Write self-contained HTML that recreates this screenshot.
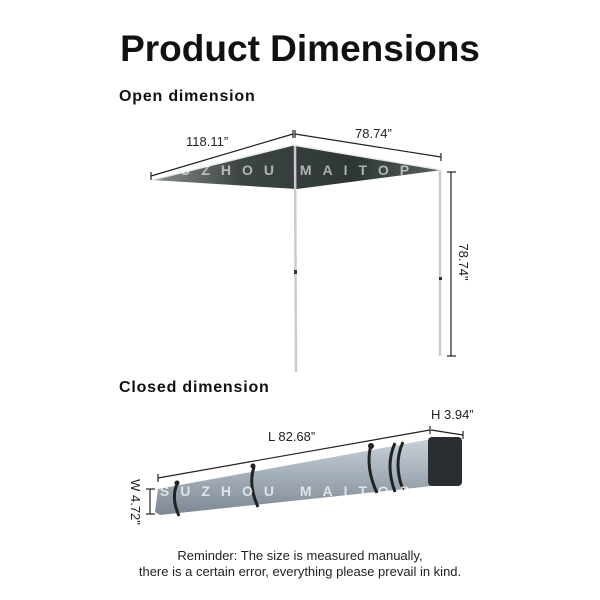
<!DOCTYPE html>
<html><head><style>
html,body{margin:0;padding:0;background:#fff;}
svg{display:block;}
</style></head><body>
<svg width="600" height="600" viewBox="0 0 600 600" xmlns="http://www.w3.org/2000/svg" font-family="Liberation Sans, sans-serif">
<defs>
<linearGradient id="can" x1="0" y1="0" x2="1" y2="0">
<stop offset="0" stop-color="#8a9090"/><stop offset="0.3" stop-color="#3e4545"/><stop offset="0.7" stop-color="#2e3535"/><stop offset="1" stop-color="#5a6262"/>
</linearGradient>
<linearGradient id="tube" x1="0" y1="0" x2="0" y2="1">
<stop offset="0" stop-color="#c8d0d8"/><stop offset="0.4" stop-color="#aab4be"/><stop offset="1" stop-color="#7e8894"/>
</linearGradient>
</defs>
<text x="300" y="61" text-anchor="middle" font-size="37" font-weight="bold" fill="#111">Product Dimensions</text>
<text x="119" y="101" font-size="16" font-weight="bold" fill="#111" letter-spacing="0.8">Open dimension</text>
<text x="119" y="392" font-size="16" font-weight="bold" fill="#111" letter-spacing="0.8">Closed dimension</text>

<polygon points="152,180 293,145 442,170 297,189" fill="url(#can)"/>
<polyline points="152,180 293,145 442,170" fill="none" stroke="#e8ecec" stroke-width="1.5"/>
<line x1="295" y1="146" x2="296" y2="372" stroke="#c8ccd0" stroke-width="2.5"/>
<line x1="440" y1="171" x2="440" y2="356" stroke="#c8ccd0" stroke-width="2.5"/>
<rect x="294" y="270" width="3" height="4" fill="#333"/>
<rect x="439" y="277" width="3" height="3" fill="#333"/>
<text x="290" y="175" font-size="14" font-weight="bold" fill="#fff" fill-opacity="0.6" text-anchor="middle" letter-spacing="11">SUZHOU MAITOP</text>

<g stroke="#222" stroke-width="1.2" fill="none">
<line x1="151" y1="176" x2="293" y2="134"/>
<line x1="151" y1="172" x2="151" y2="180"/>
<line x1="293" y1="130" x2="293" y2="138"/>
<line x1="295" y1="130" x2="295" y2="138"/>
<line x1="295" y1="134" x2="441" y2="157"/>
<line x1="441" y1="153" x2="441" y2="161"/>
<line x1="451" y1="172" x2="451" y2="356"/>
<line x1="447" y1="172" x2="456" y2="172"/>
<line x1="447" y1="356" x2="456" y2="356"/>
</g>
<text x="186" y="146" font-size="13" fill="#222">118.11”</text>
<text x="355" y="138" font-size="13" fill="#222">78.74”</text>
<text transform="translate(459,262) rotate(90)" font-size="13" fill="#222" text-anchor="middle">78.74"</text>

<polygon points="158,489 432,439 432,486 160,515 155,512" fill="url(#tube)"/>
<rect x="428" y="437" width="34" height="49" rx="4" fill="#2a2e33"/>
<g stroke="#222" stroke-width="3" fill="none">
<path d="M177,484 q-6,14 2,32"/>
<path d="M254,467 q-6,18 4,40"/>
<path d="M371,445 q-6,22 6,48"/>
<path d="M395,443 q-10,22 0,49"/>
<path d="M403,442 q-10,22 0,48"/>
</g>
<g fill="#222">
<circle cx="177" cy="483" r="2.5"/><circle cx="253" cy="466" r="2.5"/><circle cx="371" cy="446" r="3"/>
</g>
<text x="290" y="496" font-size="14" font-weight="bold" fill="#fff" fill-opacity="0.7" text-anchor="middle" letter-spacing="11">SUZHOU MAITOP</text>
<g stroke="#222" stroke-width="1.2" fill="none">
<line x1="158" y1="478" x2="430" y2="430"/>
<line x1="158" y1="474" x2="158" y2="482"/>
<line x1="430" y1="426" x2="430" y2="434"/>
<line x1="431" y1="430" x2="463" y2="435"/>
<line x1="463" y1="431" x2="463" y2="439"/>
<line x1="150" y1="489" x2="150" y2="514"/>
<line x1="146" y1="489" x2="155" y2="489"/>
<line x1="146" y1="514" x2="155" y2="514"/>
</g>
<text x="268" y="441" font-size="13" fill="#222">L 82.68”</text>
<text x="431" y="419" font-size="13" fill="#222">H 3.94”</text>
<text transform="translate(131,502) rotate(90)" font-size="13" fill="#222" text-anchor="middle">W 4.72"</text>

<text x="300" y="560" font-size="13" fill="#222" text-anchor="middle">Reminder: The size is measured manually,</text>
<text x="300" y="576" font-size="13" fill="#222" text-anchor="middle">there is a certain error, everything please prevail in kind.</text>
</svg>
</body></html>
